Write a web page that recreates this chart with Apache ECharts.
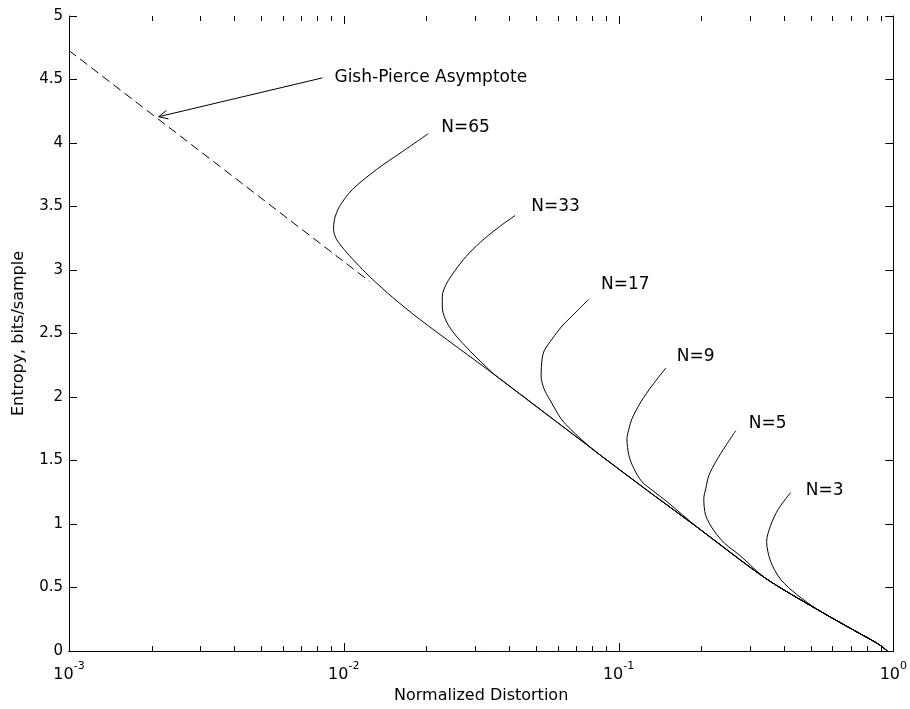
<!DOCTYPE html>
<html><head><meta charset="utf-8">
<script src="https://cdn.jsdelivr.net/npm/echarts@6/dist/echarts.min.js"></script>
<style>html,body{margin:0;padding:0;background:#fff}#c{width:910px;height:709px}</style>
</head><body><div id="c"></div>
<script>
// ---- data ----
const xMin = 0.001, xMax = 1;
const yTickLabels = ['0','0.5','1','1.5','2','2.5','3','3.5','4','4.5','5'];
const xTickExponents = ['-3','-2','-1','0'];
const majorTicks = [0.001, 0.01, 0.1, 1];
const minorTicks = [0.002,0.003,0.004,0.005,0.006,0.007,0.008,0.009,
                    0.02,0.03,0.04,0.05,0.06,0.07,0.08,0.09,
                    0.2,0.3,0.4,0.5,0.6,0.7,0.8,0.9];
const asymptote = [[0.001,4.728],[0.01239,2.912]];
const arrow = [[0.00837,4.513,0.00212,4.207]];
const envelope = [[0.01502,2.787],[0.01884,2.614],[0.03587,2.166],[0.0801,1.593],[0.0923,1.491],
                  [0.1289,1.256],[0.1959,0.966],[0.3430,0.573],[0.5343,0.322],[0.7283,0.157],
                  [0.8829,0.055],[0.952,0.0]];
const curve65 = [[0.02031,4.074],[0.01633,3.932],[0.01315,3.791],[0.01075,3.634],[0.00965,3.501],
                 [0.00925,3.399],[0.00918,3.320],[0.00941,3.242],[0.01023,3.140],[0.01140,3.030],[0.01271,2.928]];
const curve33 = [[0.04204,3.430],[0.03617,3.328],[0.03138,3.218],[0.02790,3.108],[0.02544,2.998],
                 [0.02361,2.889],[0.02283,2.794],[0.02283,2.708],[0.02341,2.614],[0.02481,2.520],
                 [0.02790,2.394],[0.03299,2.237]];
const curve17 = [[0.07806,2.771],[0.07002,2.669],[0.06230,2.559],[0.05729,2.457],[0.05358,2.363],
                 [0.05270,2.300],[0.05225,2.166],[0.05358,2.064],[0.05682,1.962],[0.06178,1.829],[0.06716,1.743]];
const curve9  = [[0.1487,2.229],[0.1322,2.088],[0.1206,1.962],[0.1119,1.829],[0.1091,1.750],
                 [0.1073,1.672],[0.1091,1.538],[0.1138,1.436],[0.1216,1.334],[0.1345,1.256],[0.1499,1.177]];
const curve5  = [[0.2670,1.735],[0.2455,1.617],[0.2259,1.491],[0.2130,1.381],[0.2077,1.279],
                 [0.2043,1.201],[0.2077,1.067],[0.2221,0.950],[0.2434,0.848],[0.2761,0.754]];
const curve3  = [[0.4229,1.248],[0.3825,1.122],[0.3577,0.989],[0.3459,0.863],[0.3577,0.706],
                 [0.3889,0.565],[0.4446,0.447]];
const curveNames = ['N=65','N=33','N=17','N=9','N=5','N=3'];
const curveTops = [curve65, curve33, curve17, curve9, curve5, curve3];
const mergeIndex = [0, 2, 3, 6, 7, 8];
const annotations = [[0.02265,4.121,'N=65'],[0.0481,3.501,'N=33'],[0.0863,2.889,'N=17'],
                     [0.163,2.316,'N=9'],[0.298,1.790,'N=5'],[0.480,1.264,'N=3'],
                     [0.00925,4.513,'Gish-Pierce Asymptote']];

// ---- chart ----
const FONT = 'DejaVu Sans';
const chart = echarts.init(document.getElementById('c'), null, {renderer:'canvas'});
const lineSeries = curveTops.map((top, i) => ({
  name: curveNames[i], type: 'line', xAxisIndex: 0, yAxisIndex: 0,
  data: top.concat(envelope.slice(mergeIndex[i])),
  showSymbol: false, symbol: 'none', smooth: 0.3,
  lineStyle: {color: '#000', width: 1}, silent: true, z: 3
}));
function tickSeries(name, values, yVal, len) {
  return {
    name: name, type: 'custom', coordinateSystem: 'cartesian2d', silent: true, clip: false, z: 5,
    data: values.map(v => [v, yVal]), encode: {x: 0, y: 1},
    renderItem: (params, api) => {
      const p = api.coord([api.value(0), api.value(1)]);
      const x = Math.round(p[0]) + 0.5;
      return {type: 'line', shape: {x1: x, y1: p[1], x2: x, y2: p[1] + len},
              style: {stroke: '#000', lineWidth: 1}};
    }
  };
}
const axisCommon = {
  axisLine: {show: true, lineStyle: {color: '#000', width: 1}},
  splitLine: {show: false}
};
chart.setOption({
  animation: false,
  backgroundColor: '#fff',
  grid: {left: 69, top: 16, right: 15, bottom: 56, containLabel: false},
  xAxis: [
    Object.assign({type: 'log', logBase: 10, min: xMin, max: xMax, interval: 1, position: 'bottom',
      name: 'Normalized Distortion', nameLocation: 'middle', nameGap: 28,
      nameTextStyle: {fontFamily: FONT, fontSize: 16, color: '#000'},
      axisTick: {show: false},
      axisLabel: {margin: 10, color: '#000',
        formatter: v => '{b|10}{s|' + xTickExponents[Math.round(Math.log10(v)) + 3] + '}',
        rich: {b: {fontFamily: FONT, fontSize: 16, color: '#000', verticalAlign: 'bottom', lineHeight: 22},
               s: {fontFamily: FONT, fontSize: 11, color: '#000', verticalAlign: 'top', lineHeight: 22}}}
    }, axisCommon),
    Object.assign({type: 'log', logBase: 10, min: xMin, max: xMax, interval: 1, position: 'top',
      axisTick: {show: false}, axisLabel: {show: false}}, axisCommon)
  ],
  yAxis: [
    Object.assign({type: 'value', min: 0, max: 5, interval: 0.5, position: 'left',
      name: 'Entropy, bits/sample', nameLocation: 'middle', nameGap: 42,
      nameTextStyle: {fontFamily: FONT, fontSize: 16, color: '#000'},
      axisTick: {show: true, inside: true, length: 8, lineStyle: {color: '#000'}},
      axisLabel: {margin: 6, color: '#000', fontFamily: FONT, fontSize: 15,
        formatter: v => yTickLabels[Math.round(v * 2)]}
    }, axisCommon),
    Object.assign({type: 'value', min: 0, max: 5, interval: 0.5, position: 'right',
      axisTick: {show: true, inside: true, length: 8, lineStyle: {color: '#000'}},
      axisLabel: {show: false}}, axisCommon)
  ],
  series: lineSeries.concat([
    {name: 'asymptote', type: 'line', data: asymptote, showSymbol: false, symbol: 'none', z: 3,
     lineStyle: {color: '#000', width: 1, type: [9, 5]}, silent: true},
    tickSeries('minorBottom', minorTicks, 0, -5),
    tickSeries('minorTop', minorTicks, 5, 5),
    tickSeries('majorBottom', majorTicks, 0, -8),
    tickSeries('majorTop', majorTicks, 5, 8),
    {name: 'arrow', type: 'custom', coordinateSystem: 'cartesian2d', silent: true, clip: false,
     data: arrow, encode: {x: [0, 2], y: [1, 3]},
     renderItem: (params, api) => {
       const p1 = api.coord([api.value(0), api.value(1)]);
       const p2 = api.coord([api.value(2), api.value(3)]);
       const a = Math.atan2(p1[1] - p2[1], p1[0] - p2[0]);
       const L = 10, d = 0.45;
       const h1 = [p2[0] + L * Math.cos(a + d), p2[1] + L * Math.sin(a + d)];
       const h2 = [p2[0] + L * Math.cos(a - d), p2[1] + L * Math.sin(a - d)];
       return {type: 'group', children: [
         {type: 'line', shape: {x1: p1[0], y1: p1[1], x2: p2[0], y2: p2[1]}, style: {stroke: '#000', lineWidth: 1}},
         {type: 'polyline', shape: {points: [h1, p2, h2]}, style: {stroke: '#000', lineWidth: 1, fill: null}}
       ]};
     }},
    {name: 'labels', type: 'custom', coordinateSystem: 'cartesian2d', silent: true, clip: false,
     data: annotations, encode: {x: 0, y: 1},
     renderItem: (params, api) => {
       const p = api.coord([api.value(0), api.value(1)]);
       return {type: 'text', x: p[0], y: p[1],
         style: {text: annotations[params.dataIndex][2], fill: '#000', font: '17px "' + FONT + '"',
                 align: 'left', verticalAlign: 'middle'}};
     }}
  ])
});
</script></body></html>
